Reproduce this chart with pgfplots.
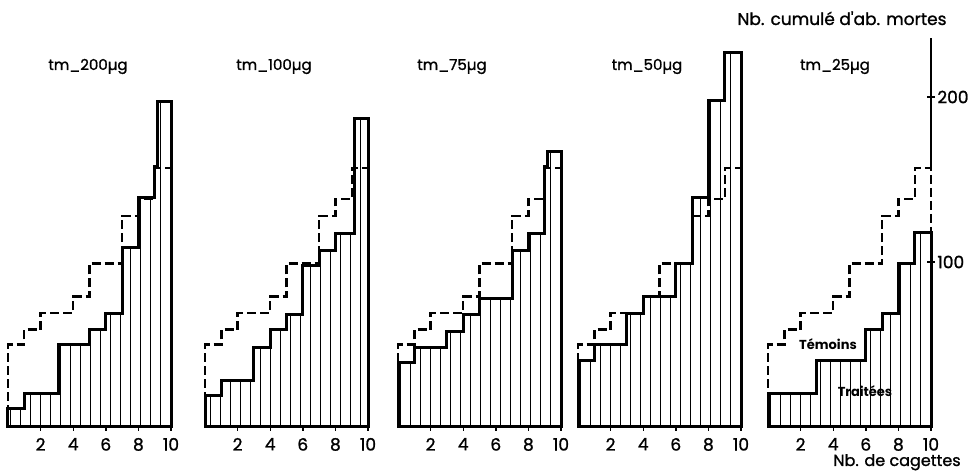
\documentclass[border=0pt]{standalone}
\usepackage{fontspec}
\setmainfont{Poppins}
\newfontfamily\medium{Poppins}[FakeBold=1.2]
\usepackage{pgfplots}
\pgfplotsset{compat=1.18}
\usetikzlibrary{patterns.meta}

% one panel per dose, all on the same y scale (0.825pt per bee)
\pgfplotsset{
  panel/.style={
    scale only axis, width=81.5pt, height=198pt,
    xmin=0, xmax=10, ymin=0, ymax=240,
    axis x line=bottom, axis y line=none,
    axis line style={-, line width=1pt},
    xtick={2,4,6,8,10}, tick align=outside, major tick length=2pt,
    tick style={line width=0.7pt, black},
    ticklabel style={font=\medium\fontsize{8.5}{8.5}\selectfont},
    /pgf/number format/assume math mode=true,
    clip=false, anchor=south west,
  },
  temoins/.style={const plot, black, line width=1.2pt, dash pattern=on 4.5pt off 2pt},
  traitees/.style={const plot, black, line width=1.5pt,
    pattern={Lines[angle=90,distance=5pt,line width=0.5pt]}},
}

\begin{document}
\begin{tikzpicture}
% témoins are the same controls in every panel

\begin{axis}[panel, at={(4pt,23.5pt)}]
\addplot[traitees] coordinates {(0,11)(1,20)(3.1,50)(5,59)(6,69)(7,109)(8,139)(9,158)(9.15,197)(10,197)} \closedcycle;
\addplot[temoins] coordinates {(0,0)(0,50)(1,59)(2,69)(4,79)(5,99)(7,128)(8,138)(9,157)(10,157)};
\end{axis}

\begin{axis}[panel, at={(102.5pt,23.5pt)}]
\addplot[traitees] coordinates {(0,19)(1,28)(3,48)(4,59)(5,68)(6,98)(7,107)(8,117)(9.15,187)(10,187)} \closedcycle;
\addplot[temoins] coordinates {(0,0)(0,50)(1,59)(2,69)(4,79)(5,99)(7,128)(8,138)(9,157)(10,157)};
\end{axis}

\begin{axis}[panel, at={(199pt,23.5pt)}]
\addplot[traitees] coordinates {(0,39)(1,48)(3,58)(4,68)(5,78)(7,107)(8,117)(9,158)(9.2,167)(10,167)} \closedcycle;
\addplot[temoins] coordinates {(0,0)(0,50)(1,59)(2,69)(4,79)(5,99)(7,128)(8,138)(9,157)(10,157)};
\end{axis}

\begin{axis}[panel, at={(289pt,23.5pt)}]
\addplot[traitees] coordinates {(0,40)(1,50)(3,69)(4,79)(6,99)(7,139)(8,198)(9,227)(10,227)} \closedcycle;
\addplot[temoins] coordinates {(0,0)(0,50)(1,59)(2,69)(4,79)(5,99)(7,128)(8,138)(9,157)(10,157)};
\end{axis}

\begin{axis}[panel, at={(384pt,23.5pt)}]
\addplot[traitees] coordinates {(0,20)(3,40)(6,59)(7,69)(8,99)(9,118)(10,118)} \closedcycle;
\addplot[temoins] coordinates {(0,0)(0,50)(1,59)(2,69)(4,79)(5,99)(7,128)(8,138)(9,157)(10,157)(10,118)};
% the shared y axis on the right
\draw[line width=1.1pt] (axis cs:10,157) -- (axis cs:10,236);
\draw[line width=0.9pt] ([xshift=-2pt]axis cs:10,100) -- ([xshift=2pt]axis cs:10,100);
\draw[line width=0.9pt] ([xshift=-2pt]axis cs:10,200) -- ([xshift=2pt]axis cs:10,200);
\node[anchor=west, font=\medium\fontsize{8.5}{8.5}\selectfont, inner sep=0pt, xshift=3pt] at (axis cs:10,100) {100};
\node[anchor=west, font=\medium\fontsize{8.5}{8.5}\selectfont, inner sep=0pt, xshift=3pt] at (axis cs:10,200) {200};
\end{axis}

\begin{scope}[font=\medium\fontsize{7.5}{7.5}\selectfont]
\node[anchor=base] at (44pt,202pt) {tm\_200µg};
\node[anchor=base] at (137pt,202pt) {tm\_100µg};
\node[anchor=base] at (226pt,202pt) {tm\_75µg};
\node[anchor=base] at (323.5pt,202pt) {tm\_50µg};
\node[anchor=base] at (417.5pt,202pt) {tm\_25µg};
\end{scope}
\node[anchor=base, font=\medium\fontsize{8.5}{8.5}\selectfont] at (421pt,224.5pt) {Nb. cumulé d'ab. mortes};
\node[anchor=base, font=\medium\fontsize{8}{8}\selectfont] at (448.5pt,4pt) {Nb. de cagettes};
\node[anchor=base, font=\bfseries\fontsize{6.5}{6.5}\selectfont] at (414pt,62pt) {Témoins};
\node[anchor=base, font=\bfseries\fontsize{6.5}{6.5}\selectfont] at (432.5pt,38.5pt) {Traitées};

\pgfresetboundingbox
\path[use as bounding box] (0,0) rectangle (488pt,237pt);
\end{tikzpicture}
\end{document}
